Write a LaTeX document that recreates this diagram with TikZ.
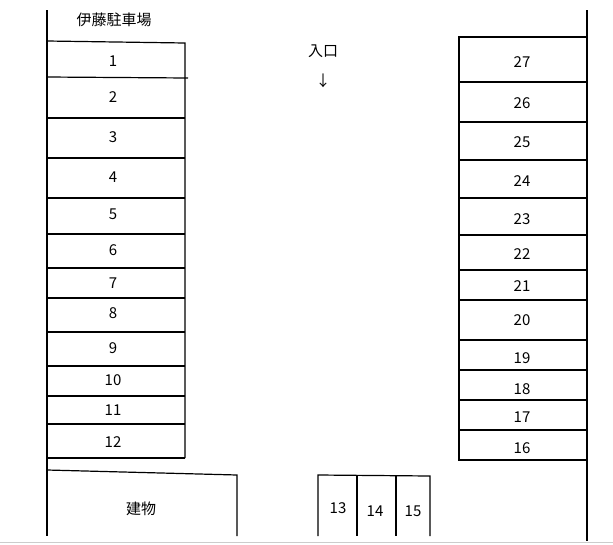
\documentclass[tikz,border=0pt]{standalone}
\usepackage{fontspec}
\setmainfont{Noto Sans CJK JP}
\begin{document}
\begin{tikzpicture}[x=1pt,y=-1pt,line width=1.2pt,
  lbl/.style={font=\fontsize{15}{17}\selectfont,inner sep=0pt}]
\useasboundingbox (0,0) rectangle (613,544);
\fill[white] (0,0) rectangle (613,544);
\draw[gray!40,line width=1pt] (0,542) -- (613,542);
% left column
\draw (47,10) -- (47,536);
\draw (47,41) -- (185,43) -- (185,458);
\draw (47,77) -- (188,78);
\foreach \y in {118,158,198,234,268,298,332,366,396,424,458}
  \draw (47,\y) -- (185,\y);
\foreach \n/\y in {1/61,2/97,3/137,4/177,5/214,6/250,7/283,8/313,9/348,10/380,11/410,12/442}
  \node[lbl] (L\n) at (113,\y) {\n};
\node[lbl] (title) at (114,20) {伊藤駐車場};
% entrance
\node[lbl] (ent) at (323,51) {入口};
\node[lbl] (arr) at (323,81) {↓};
% right column
\draw (587,10) -- (587,541);
\draw (587,460) -- (459,460) -- (459,37) -- (587,37);
\foreach \y in {82,122,160,198,235,270,300,340,370,400,430}
  \draw (459,\y) -- (587,\y);
\foreach \n/\y in {27/62,26/103,25/142,24/181,23/219,22/254,21/286,20/320,19/358,18/389,17/417,16/448}
  \node[lbl] (R\n) at (522,\y) {\n};
% building
\draw (47,470) -- (237,475) -- (237,536);
\node[lbl] (bld) at (141,509) {建物};
% stalls 13-15
\draw (318,536) -- (318,475) -- (430,476) -- (430,536);
\draw (357,475) -- (357,536);
\draw (396,476) -- (396,536);
\node[lbl] (s13) at (338,508) {13};
\node[lbl] (s14) at (375,511) {14};
\node[lbl] (s15) at (413,511) {15};
\end{tikzpicture}
\end{document}
